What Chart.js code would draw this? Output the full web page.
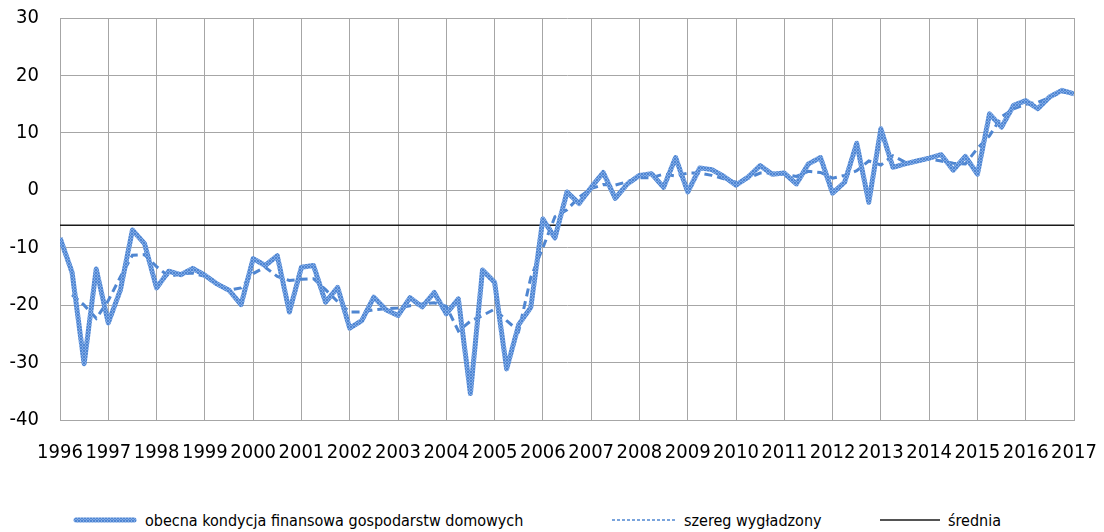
<!DOCTYPE html>
<html lang="pl">
<head>
<meta charset="utf-8">
<script src="https://cdn.jsdelivr.net/npm/chart.js@4.4.1/dist/chart.umd.min.js"></script>
<style>
  html, body { margin: 0; padding: 0; background: #fff; }
  #wrap { position: relative; width: 1104px; height: 532px; overflow: hidden; }
  #chartBox { position: absolute; left: 0; top: 0; }
  #legenda { position: absolute; left: 0; top: 508px; width: 1104px; height: 24px;
             font: 16px "DejaVu Sans Condensed", "DejaVu Sans", sans-serif; color: #000; }
  .poz { position: absolute; top: 0; height: 24px; display: flex; align-items: center; white-space: nowrap; }
  .poz canvas { margin-right: 8px; }
</style>
</head>
<body>
<div id="wrap">
  <div id="chartBox"><canvas id="wykres" width="1104" height="480"></canvas></div>
  <div id="legenda"></div>
</div>
<script>
// lata na osi X (dane kwartalne, pierwszy kwartał na linii roku)
const lata = [1996, 1997, 1998, 1999, 2000, 2001, 2002, 2003, 2004, 2005, 2006,
              2007, 2008, 2009, 2010, 2011, 2012, 2013, 2014, 2015, 2016, 2017];

// obecna kondycja finansowa gospodarstw domowych, kwartalnie 1996 Q1 - 2017 Q1
const kondycja = [
  -8.3, -14.3, -30.2, -13.7,
  -23.1, -17.4, -6.9, -9.3,
  -17.0, -14.1, -14.7, -13.6,
  -14.8, -16.3, -17.4, -19.9,
  -11.9, -13.1, -11.4, -21.2,
  -13.4, -13.1, -19.5, -16.9,
  -24.0, -22.7, -18.6, -20.8,
  -21.8, -18.7, -20.3, -17.8,
  -21.5, -18.9, -35.4, -13.9,
  -16.0, -31.1, -23.4, -20.4,
  -5.0, -8.3, -0.3, -2.3,
  0.5, 3.1, -1.4, 1.1,
  2.6, 2.9, 0.5, 5.7,
  -0.3, 3.9, 3.6, 2.4,
  0.9, 2.3, 4.3, 2.8,
  3.0, 1.1, 4.6, 5.7,
  -0.5, 1.4, 8.2, -2.1,
  10.7, 4.0, 4.6, 5.1,
  5.6, 6.2, 3.5, 5.9,
  2.8, 13.3, 11.0, 14.8,
  15.6, 14.2, 16.3, 17.4,
  16.8
];

// szereg wygładzony (brak wartości dla pierwszego kwartału)
const wygladzony = [
  null, -18.2, -20.0, -22.3,
  -19.2, -15.1, -11.3, -11.2,
  -13.3, -15.0, -14.6, -14.4,
  -15.0, -16.3, -17.4, -17.0,
  -14.5, -13.4, -15.0, -15.7,
  -15.5, -15.4, -17.3, -19.4,
  -21.2, -21.2, -20.8, -20.6,
  -20.5, -20.1, -19.8, -19.6,
  -20.2, -24.5, -22.8, -21.8,
  -20.7, -22.7, -24.5, -15.2,
  -10.0, -4.6, -3.4, -1.2,
  0.3, 1.0, 0.9, 1.5,
  2.2, 2.2, 2.8, 2.5,
  3.0, 3.0, 2.6, 2.0,
  1.4, 2.1, 3.0, 3.0,
  2.8, 2.4, 3.3, 3.1,
  2.1, 2.6, 3.4, 5.1,
  4.4, 6.0, 4.9, 5.0,
  5.5, 5.1, 4.7, 4.6,
  7.3, 9.5, 12.8, 14.2,
  15.0, 15.3, 16.2, 17.1,
  16.8
];

const srednia = -6.1;

const fontRodzina = '"DejaVu Sans Condensed", "DejaVu Sans", sans-serif';
const kolorSiatki = '#a6a6a6';

// kreskowana faktura grubej linii
function wzorKondycji(g) {
  const c = document.createElement('canvas');
  c.width = 3; c.height = 3;
  const p = c.getContext('2d');
  p.fillStyle = '#80aae6';
  p.fillRect(0, 0, 3, 3);
  p.fillStyle = '#4f86d2';
  p.fillRect(0, 0, 1, 1);
  p.fillRect(1, 1, 1, 1);
  p.fillRect(2, 2, 1, 1);
  p.fillRect(2, 0, 1, 1);
  p.fillRect(0, 2, 1, 1);
  return g.createPattern(c, 'repeat');
}

const punkty = arr => arr.map((v, i) => ({ x: lata[0] + i / 4, y: v }));

const ctx = document.getElementById('wykres').getContext('2d');

const wykres = new Chart(ctx, {
  type: 'line',
  data: {
    datasets: [
      {
        label: 'obecna kondycja finansowa gospodarstw domowych',
        data: punkty(kondycja),
        borderColor: wzorKondycji(ctx),
        borderWidth: 5,
        borderJoinStyle: 'round',
        pointRadius: 0,
        tension: 0,
        order: 1
      },
      {
        label: 'szereg wygładzony',
        data: punkty(wygladzony),
        borderColor: '#4f86d1',
        borderWidth: 3,
        borderDash: [8, 5],
        pointRadius: 0,
        tension: 0,
        order: 2
      },
      {
        label: 'średnia',
        data: [{ x: lata[0], y: srednia }, { x: lata[lata.length - 1], y: srednia }],
        borderColor: '#1a1a1a',
        borderWidth: 1.5,
        pointRadius: 0,
        order: 3
      }
    ]
  },
  options: {
    responsive: false,
    animation: false,
    layout: { padding: { top: 18, right: 30, left: 0, bottom: 0 } },
    plugins: { legend: { display: false }, tooltip: { enabled: false } },
    scales: {
      x: {
        type: 'linear',
        min: lata[0],
        max: lata[lata.length - 1],
        afterBuildTicks: a => { a.ticks = lata.map(v => ({ value: v })); },
        // etykiety skrajnych lat mieszczą się w marginesie, bez dodatkowego odstępu
        afterFit: a => { a.height = 60; a.paddingLeft = 0; a.paddingRight = 0; },
        ticks: {
          autoSkip: false,
          maxRotation: 0,
          padding: 21,
          color: '#000',
          font: { family: fontRodzina, size: 20 },
          callback: v => String(v)
        },
        grid: { color: kolorSiatki, lineWidth: 1, drawTicks: false },
        border: { color: kolorSiatki, width: 1 }
      },
      y: {
        min: -40,
        max: 30,
        afterFit: a => { a.width = 60; a.paddingTop = 0; a.paddingBottom = 0; },
        ticks: {
          stepSize: 10,
          padding: 21,
          color: '#000',
          font: { family: fontRodzina, size: 20 }
        },
        grid: { color: kolorSiatki, lineWidth: 1, drawTicks: false },
        border: { color: kolorSiatki, width: 1 }
      }
    }
  }
});

// legenda pod wykresem, próbki rysowane stylem serii
const legendaX = [73, 612, 880];
const probkaSzer = [64, 64, 60];
const probkaStyl = [
  { width: 5, dash: [] },
  { width: 1.5, dash: [3, 2] },
  { width: 1.5, dash: [] }
];
const legenda = document.getElementById('legenda');
wykres.data.datasets.forEach((ds, i) => {
  const poz = document.createElement('div');
  poz.className = 'poz';
  poz.style.left = legendaX[i] + 'px';
  const c = document.createElement('canvas');
  c.width = probkaSzer[i];
  c.height = 10;
  const g = c.getContext('2d');
  g.strokeStyle = i === 0 ? wzorKondycji(g) : ds.borderColor;
  g.lineWidth = probkaStyl[i].width;
  g.lineCap = i === 0 ? 'round' : 'butt';
  g.setLineDash(probkaStyl[i].dash);
  g.beginPath();
  g.moveTo(i === 0 ? 3 : 0, 5);
  g.lineTo(c.width - (i === 0 ? 3 : 0), 5);
  g.stroke();
  const t = document.createElement('span');
  t.textContent = ds.label;
  poz.appendChild(c);
  poz.appendChild(t);
  legenda.appendChild(poz);
});
</script>
</body>
</html>
